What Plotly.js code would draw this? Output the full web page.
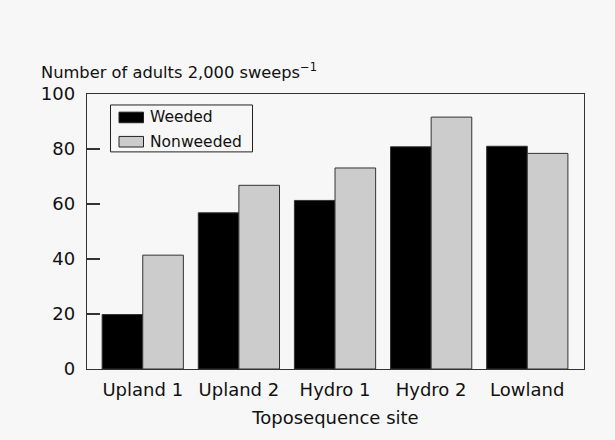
<!DOCTYPE html>
<html>
<head>
<meta charset="utf-8">
<script src="https://cdn.plot.ly/plotly-3.0.1.min.js"></script>
<style>html,body{margin:0;padding:0;background:#f7f7f7;}#chart{width:615px;height:440px;}</style>
</head>
<body>
<div id="chart"></div>
<script>
const sites = ["Upland 1", "Upland 2", "Hydro 1", "Hydro 2", "Lowland"];
const weeded = [19.8, 56.8, 61.3, 80.8, 81.0];
const nonweeded = [41.4, 66.8, 73.1, 91.6, 78.4];
const seriesNames = ["Weeded", "Nonweeded"];
const yTicks = [0, 20, 40, 60, 80, 100];

const FONT = "DejaVu Sans, sans-serif";
const L = 87, R = 584, T = 93.5, B = 369;
const W = 615, H = 440;
const px = x => (x - L) / (R - L);
const py = y => (B - y) / (B - T);

const traces = [
  {type: "bar", x: sites, y: weeded, name: seriesNames[0],
   marker: {color: "#000000", line: {color: "#333333", width: 1}}},
  {type: "bar", x: sites, y: nonweeded, name: seriesNames[1],
   marker: {color: "#cccccc", line: {color: "#333333", width: 1}}}
];

const swatchColors = ["#000000", "#cccccc"];
const shapes = [
  {type: "rect", xref: "paper", yref: "paper", x0: px(110.5), x1: px(252.5), y0: py(104.5), y1: py(151.5),
   line: {color: "#222222", width: 1}, fillcolor: "#f7f7f7"}
];
const annotations = [
  {xref: "paper", yref: "paper", x: px(39), y: py(70.5), xanchor: "left", yanchor: "middle", showarrow: false,
   text: "Number of adults 2,000 sweeps<sup>\u22121</sup>", font: {family: FONT, size: 16.3, color: "#111"}}
];
const swatchY = [117, 141.3];
seriesNames.forEach((n, i) => {
  shapes.push({type: "rect", xref: "paper", yref: "paper", x0: px(119), x1: px(143.5),
    y0: py(swatchY[i] - 5.3), y1: py(swatchY[i] + 5.3), line: {color: "#222", width: 1}, fillcolor: swatchColors[i]});
  annotations.push({xref: "paper", yref: "paper", x: px(147.5), y: py(swatchY[i]), xanchor: "left", yanchor: "middle",
    showarrow: false, text: n, font: {family: FONT, size: 15.5, color: "#111"}});
});

const layout = {
  width: W, height: H,
  paper_bgcolor: "#f7f7f7", plot_bgcolor: "#f7f7f7",
  margin: {l: L, r: W - R, t: T, b: H - B, pad: 0},
  showlegend: false,
  barmode: "group", bargap: 0.155, bargroupgap: 0,
  font: {family: FONT, size: 18, color: "#111"},
  xaxis: {type: "category", range: [-0.58, 4.59], showline: true, mirror: true, linecolor: "#333", linewidth: 1.2,
    ticks: "", showgrid: false, zeroline: false, tickfont: {family: FONT, size: 18, color: "#111"},
    ticklabelstandoff: 4,
    title: {text: "Toposequence site", font: {family: FONT, size: 18, color: "#111"}, standoff: 12}},
  yaxis: {range: [0, 100], tickvals: yTicks, ticktext: yTicks.map(String), showline: true, mirror: true,
    linecolor: "#333", linewidth: 1.2, ticks: "inside", ticklen: 13, tickcolor: "#333", tickwidth: 1.2,
    showgrid: false, zeroline: false, tickfont: {family: FONT, size: 18, color: "#111"}, ticklabelstandoff: 7},
  shapes: shapes, annotations: annotations
};
Plotly.newPlot("chart", traces, layout, {staticPlot: true, displayModeBar: false});
</script>
</body>
</html>
